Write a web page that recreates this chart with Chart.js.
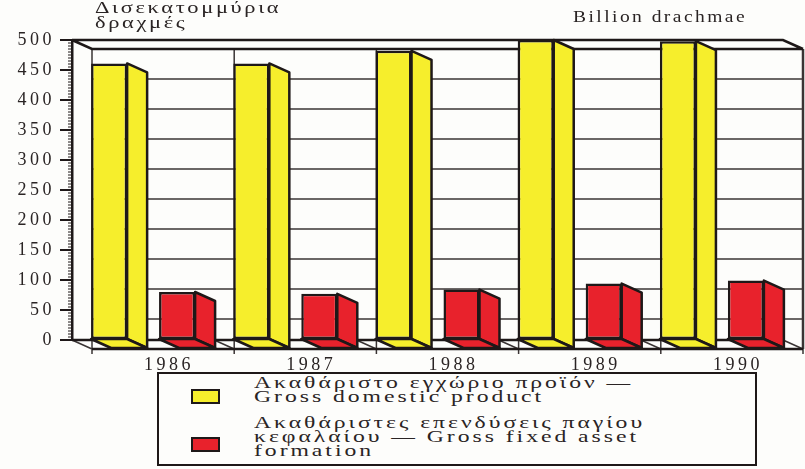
<!DOCTYPE html>
<html>
<head>
<meta charset="utf-8">
<script src="https://cdn.jsdelivr.net/npm/chart.js@4.4.1/dist/chart.umd.min.js"></script>
<style>
  body { margin: 0; background: #fdfdfb; }
  #wrap { position: relative; width: 805px; height: 469px; overflow: hidden; }
  #chart { position: absolute; left: 0; top: 0; }
  .txt { position: absolute; font-family: "Liberation Serif", "DejaVu Serif", "Times New Roman", serif; color: #2a2424; white-space: nowrap; transform-origin: 0 0; }
  #unitGr { left: 95px; top: 0px; font-size: 17px; line-height: 15px; letter-spacing: 2px; transform: scaleX(1.32); }
  #unitEn { left: 573px; top: 8px; font-size: 16px; letter-spacing: 2px; transform: scaleX(1.22); }
  #legend { position: absolute; left: 157px; top: 372px; width: 596px; height: 90px; border: 2px solid #1e1818; background: #fdfdfb; }
  .sw { position: absolute; left: 32px; width: 25px; height: 11px; border: 2px solid #1e1818; }
  .lt { position: absolute; left: 95px; font-family: "Liberation Serif", "DejaVu Serif", "Times New Roman", serif; font-size: 16px; line-height: 14px; letter-spacing: 2px; color: #2a2424; white-space: nowrap; transform-origin: 0 0; transform: scaleX(1.48); }
</style>
</head>
<body>
<div id="wrap">
  <canvas id="chart" width="805" height="469"></canvas>
  <div class="txt" id="unitGr">Δισεκατομμύρια<br>δραχμές</div>
  <div class="txt" id="unitEn">Billion drachmae</div>
  <div id="legend">
    <div class="sw" style="top:15px;background:#f6ee2c"></div>
    <div class="lt" style="top:2px">Ακαθάριστο εγχώριο προϊόν —<br>Gross domestic product</div>
    <div class="sw" style="top:63px;background:#e8222c"></div>
    <div class="lt" style="top:42px">Ακαθάριστες επενδύσεις παγίου<br>κεφαλαίου — Gross fixed asset<br>formation</div>
  </div>
</div>
<script>
const years = ["1986", "1987", "1988", "1989", "1990"];
const gdp = [461, 461, 482, 500, 498];
const gfcf = [80, 77, 84, 94, 99];
const yTicks = [0, 50, 100, 150, 200, 250, 300, 350, 400, 450, 500];

const yellow = "#f6ee2c";
const red = "#e8222c";
const ink = "#1e1818";
const serif = "'Liberation Serif', 'DejaVu Serif', 'Times New Roman', serif";
const DX = 20, DY = 9;

// back wall, floor and frame of the 3D box
const box3d = {
  id: "box3d",
  beforeDatasetsDraw(chart) {
    const ctx = chart.ctx;
    const a = chart.chartArea;
    const y = chart.scales.y;
    ctx.save();
    ctx.strokeStyle = "#3a3434";
    ctx.lineWidth = 1.5;
    yTicks.forEach(v => {
      if (v === 0 || v === 500) return;
      const py = y.getPixelForValue(v) + DY;
      ctx.beginPath();
      ctx.moveTo(a.left + DX, py);
      ctx.lineTo(a.right + DX, py);
      ctx.stroke();
    });
    // category separators on the back wall and on the floor
    const step = (a.right - a.left) / years.length;
    for (let i = 0; i <= years.length; i++) {
      const bx = a.left + i * step;
      ctx.lineWidth = (i === years.length) ? 2.5 : 1.5;
      ctx.beginPath();
      ctx.moveTo(bx + DX, a.top + DY);
      ctx.lineTo(bx + DX, a.bottom + DY);
      ctx.stroke();
      ctx.lineWidth = 1.5;
      ctx.beginPath();
      ctx.moveTo(bx, a.bottom);
      ctx.lineTo(bx + DX, a.bottom + DY);
      ctx.moveTo(bx + DX, a.bottom + DY);
      ctx.lineTo(bx + DX, a.bottom + DY + 5);
      ctx.stroke();
    }
    ctx.strokeStyle = ink;
    ctx.lineWidth = 2.5;
    ctx.beginPath();
    ctx.moveTo(a.left, a.top);
    ctx.lineTo(a.right, a.top);
    ctx.lineTo(a.right + DX, a.top + DY);
    ctx.moveTo(a.left, a.top);
    ctx.lineTo(a.left + DX, a.top + DY);
    ctx.lineTo(a.right + DX, a.top + DY);
    ctx.moveTo(a.left, a.bottom);
    ctx.lineTo(a.right, a.bottom);
    ctx.moveTo(a.left + DX, a.bottom + DY);
    ctx.lineTo(a.right + DX, a.bottom + DY);
    ctx.stroke();
    // minor ticks on the y axis
    ctx.lineWidth = 1;
    for (let v = 0; v <= 500; v += 5) {
      const py = y.getPixelForValue(v);
      ctx.beginPath();
      ctx.moveTo(a.left - 4, py);
      ctx.lineTo(a.left, py);
      ctx.stroke();
    }
    ctx.restore();
  },
  afterDatasetsDraw(chart) {
    const ctx = chart.ctx;
    ctx.save();
    ctx.strokeStyle = ink;
    ctx.lineWidth = 2.5;
    ctx.lineJoin = "round";
    chart.data.datasets.forEach((ds, di) => {
      chart.getDatasetMeta(di).data.forEach(bar => {
        const l = bar.x - bar.width / 2, r = bar.x + bar.width / 2;
        const t = bar.y, b = bar.base;
        ctx.fillStyle = ds.backgroundColor;
        // side face
        ctx.beginPath();
        ctx.moveTo(r, t);
        ctx.lineTo(r + DX, t + DY);
        ctx.lineTo(r + DX, b + DY);
        ctx.lineTo(r, b);
        ctx.closePath();
        ctx.fill();
        ctx.stroke();
        // bottom face
        ctx.beginPath();
        ctx.moveTo(l, b);
        ctx.lineTo(r, b);
        ctx.lineTo(r + DX, b + DY);
        ctx.lineTo(l + DX, b + DY);
        ctx.closePath();
        ctx.fill();
        ctx.stroke();
      });
    });
    ctx.restore();
  }
};

const spacing = {
  id: "spacing",
  beforeDraw(chart) { chart.ctx.letterSpacing = "3.5px"; },
  afterDraw(chart) { chart.ctx.letterSpacing = "0px"; }
};

new Chart(document.getElementById("chart"), {
  type: "bar",
  data: {
    labels: years,
    datasets: [
      { label: "Ακαθάριστο εγχώριο προϊόν — Gross domestic product", data: gdp, backgroundColor: yellow, borderColor: ink, borderWidth: 2.5, borderSkipped: false },
      { label: "Ακαθάριστες επενδύσεις παγίου κεφαλαίου — Gross fixed asset formation", data: gfcf, backgroundColor: red, borderColor: ink, borderWidth: 2.5, borderSkipped: false }
    ]
  },
  options: {
    responsive: false,
    animation: false,
    categoryPercentage: 0.956,
    barPercentage: 0.53,
    layout: { padding: { top: 40, right: 22, left: 0, bottom: 0 } },
    plugins: { legend: { display: false }, tooltip: { enabled: false } },
    scales: {
      x: {
        grid: { display: false, drawTicks: false },
        border: { display: false },
        ticks: { color: "#2a2424", font: { family: serif, size: 18 }, labelOffset: 26, padding: 14, maxRotation: 0 },
        afterFit(s) { s.height = 129; }
      },
      y: {
        min: 0, max: 500,
        afterBuildTicks(s) { s.ticks = yTicks.map(v => ({ value: v })); },
        grid: { drawOnChartArea: false, drawTicks: true, tickLength: 12, color: ink, lineWidth: 2 },
        border: { display: true, color: ink, width: 2.5 },
        ticks: { color: "#2a2424", font: { family: serif, size: 18 }, padding: 5 },
        afterFit(s) { s.width = 72; }
      }
    }
  },
  plugins: [box3d, spacing]
});
</script>
</body>
</html>
